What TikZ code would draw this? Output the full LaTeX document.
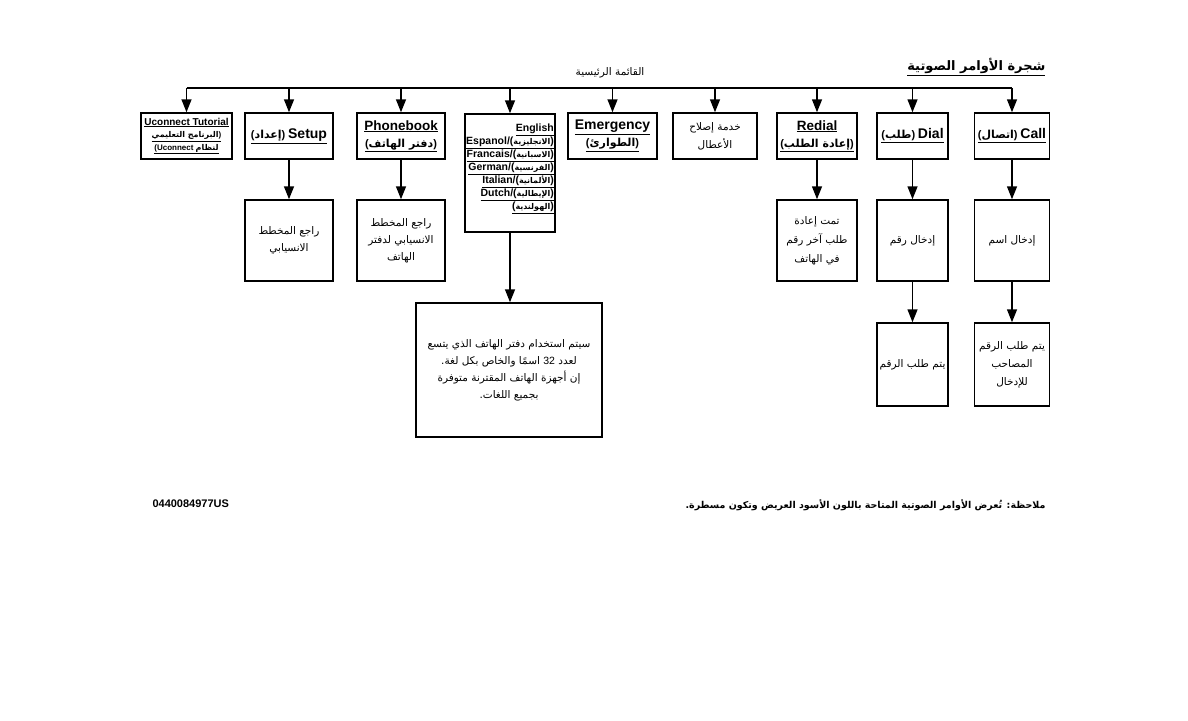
\documentclass[tikz,border=0pt]{standalone}
\usepackage{fontspec}
\setmainfont{Liberation Sans}
\newfontfamily\arfont[Script=Arabic]{DejaVu Sans}
\TeXXeTstate=1
\usetikzlibrary{arrows.meta}
\newcommand\AR[1]{{\arfont\beginR #1\endR}}
\newcommand\ul[1]{\underline{#1}}
\newcommand\fs[2]{\fontsize{#1}{#2}\selectfont}
\begin{document}
\begin{tikzpicture}[x=1pt,y=-1pt,
  box/.style={draw, line width=1.5pt, inner sep=0pt, align=center, text=black},
  topbox/.style={box, minimum height=46pt},
  midbox/.style={box, minimum height=81pt, font=\fs{10.5}{17}},
  arr/.style={line width=1.5pt, -{Triangle[length=13pt,width=10pt]}},
  bar/.style={line width=1.5pt}]
\useasboundingbox (0,0) rectangle (1188,720);

% title and main label
\node[anchor=east, font=\bfseries\fs{13}{15}] (title) at (1049,67) {\ul{\AR{شجرة الأوامر الصوتية}}};
\node[font=\fs{10.5}{12}] (menu) at (610,73) {\AR{القائمة الرئيسية}};

% top row
\node[topbox, minimum width=91pt, font=\bfseries\fs{10}{12.5}] (U) at (186.5,136)
  {\ul{Uconnect Tutorial}\\{\fs{8}{12}\ul{\AR{البرنامج التعليمي})}}\\{\fs{8}{12}\ul{(Uconnect \AR{لنظام}}}};
\node[topbox, minimum width=88pt] (S) at (289,136)
  {\ul{{\bfseries\fs{11}{14}(\AR{إعداد})} {\bfseries\fs{14}{17}Setup}}};
\node[topbox, minimum width=88pt, font=\fs{10}{17}] (P) at (401,136)
  {{\bfseries\fs{13.5}{16}\ul{Phonebook}}\\{\bfseries\fs{11}{14}\ul{(\AR{دفتر الهاتف})}}};
\node[box, minimum width=90pt, minimum height=118pt, align=right, font=\bfseries\fs{10.5}{13}] (L) at (510,173)
  {\ul{English}\\
   \ul{Espanol/({\fs{8}{13}\AR{الانجليزية}})}\\
   \ul{Francais/({\fs{8}{13}\AR{الاسبانية}})}\\
   \ul{German/({\fs{8}{13}\AR{الفرنسية}})}\\
   \ul{Italian/({\fs{8}{13}\AR{الألمانية}})}\\
   \ul{Dutch/({\fs{8}{13}\AR{الإيطالية}})}\\
   \ul{({\fs{8}{13}\AR{الهولندية}})}\\ \mbox{}};
\node[topbox, minimum width=89pt, font=\fs{10}{17}] (E) at (612.5,136)
  {{\bfseries\fs{14}{16}\ul{Emergency}}\\{\bfseries\fs{11}{14}\ul{(\AR{الطوارئ})}}};
\node[topbox, minimum width=84pt, font=\fs{10.5}{18}] (K) at (715,136)
  {\AR{خدمة إصلاح}\\\AR{الأعطال}};
\node[topbox, minimum width=80pt, font=\fs{10}{17}] (R) at (817,136)
  {{\bfseries\fs{13.5}{16}\ul{Redial}}\\{\bfseries\fs{11}{14}\ul{(\AR{إعادة الطلب})}}};
\node[topbox, minimum width=71pt] (D) at (912.5,136)
  {\ul{{\bfseries\fs{11}{14}(\AR{طلب})} {\bfseries\fs{14}{17}Dial}}};
\node[topbox, minimum width=75pt] (C) at (1012,136)
  {\ul{{\bfseries\fs{11}{14}(\AR{اتصال})} {\bfseries\fs{14}{17}Call}}};

% second row
\node[midbox, minimum width=88pt] (S2) at (289,240.5) {\AR{راجع المخطط}\\\AR{الانسيابي}};
\node[midbox, minimum width=88pt] (P2) at (401,240.5) {\AR{راجع المخطط}\\\AR{الانسيابي لدفتر}\\\AR{الهاتف}};
\node[midbox, minimum width=80pt, font=\fs{10.5}{19}] (R2) at (817,240.5) {\AR{تمت إعادة}\\\AR{طلب آخر رقم}\\\AR{في الهاتف}};
\node[midbox, minimum width=71pt] (D2) at (912.5,240.5) {\AR{إدخال رقم}};
\node[midbox, minimum width=75pt] (C2) at (1012,240.5) {\AR{إدخال اسم}};

% third row
\node[box, minimum width=186pt, minimum height=134pt, font=\fs{10.5}{17}] (L2) at (509,370)
  {\AR{سيتم استخدام دفتر الهاتف الذي يتسع}\\
   \AR{لعدد {\fontspec{Liberation Sans}\beginL 32\endL} اسمًا والخاص بكل لغة.}\\
   \AR{إن أجهزة الهاتف المقترنة متوفرة}\\
   \AR{بجميع اللغات.}};
\node[midbox, minimum width=71pt, minimum height=83pt] (D3) at (912.5,364.5) {\AR{يتم طلب الرقم}};
\node[midbox, minimum width=75pt, minimum height=83pt, font=\fs{10.5}{18}] (C3) at (1012,364.5) {\AR{يتم طلب الرقم}\\\AR{المصاحب}\\\AR{للإدخال}};

% bottom texts
\node[anchor=west, font=\bfseries\fs{11}{13}] (code) at (149,504) {0440084977US};
\node[anchor=east, font=\bfseries\fs{9.5}{12}] (note) at (1049,505) {\AR{ملاحظة: تُعرض الأوامر الصوتية المتاحة باللون الأسود العريض وتكون مسطرة.}};

% connectors
\coordinate (top) at (0,88);
\draw[bar] (U.north |- top) -- (C.north |- top);
\foreach \n in {U,S,P,L,E,K,R,D,C} \draw[arr] (\n.north |- top) -- (\n.north);
\draw[arr] (S) -- (S2);
\draw[arr] (P) -- (P2);
\draw[arr] (R) -- (R2);
\draw[arr] (D) -- (D2);
\draw[arr] (C) -- (C2);
\draw[arr] (L.south) -- (L.south |- L2.north);
\draw[arr] (D2) -- (D3);
\draw[arr] (C2) -- (C3);
\end{tikzpicture}
\end{document}
